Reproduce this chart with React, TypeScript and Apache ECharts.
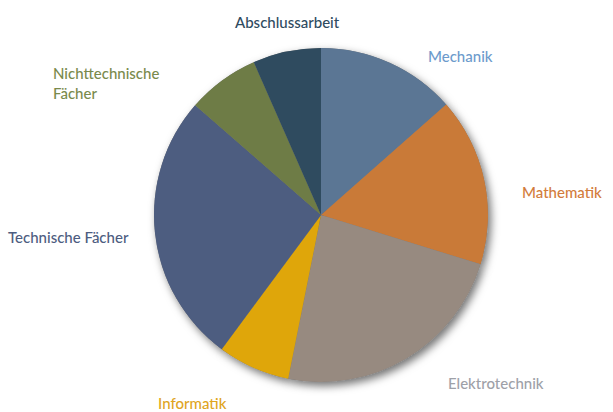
import React, { useEffect, useRef } from "react";
import * as echarts from "echarts";

const categories = [
  "Mechanik",
  "Mathematik",
  "Elektrotechnik",
  "Informatik",
  "Technische Fächer",
  "Nichttechnische\nFächer",
  "Abschlussarbeit",
];
const values = [13.5, 16.3, 23.4, 7.0, 26.3, 7.0, 6.6];
const sliceColors = ["#5b7694", "#c97a38", "#978a80", "#dfa60a", "#4d5d80", "#6e7c46", "#2f4b5f"];
const labelColors = ["#6d9bcc", "#d27c3c", "#9ea1a8", "#e0a51e", "#4d5d80", "#7a8a4c", "#2f4b5f"];

// label anchor positions (x, y, align)
const labelPos: [number, number, string][] = [
  [428, 56, "left"],
  [522, 192, "left"],
  [448, 383, "left"],
  [158, 403, "left"],
  [8, 237, "left"],
  [53, 83, "left"],
  [235, 22, "left"],
];

export default function App() {
  const ref = useRef<HTMLDivElement>(null);
  useEffect(() => {
    const chart = echarts.init(ref.current!, null, { renderer: "svg" });
    const data = categories.map((c, i) => ({
      name: c,
      value: values[i],
      itemStyle: { color: sliceColors[i] },
      label: { color: labelColors[i] },
    }));
    chart.setOption({
      animation: false,
      backgroundColor: "#ffffff",
      series: [
        {
          type: "pie",
          silent: true,
          center: [321, 215],
          radius: 167,
          startAngle: 90,
          z: 1,
          data: categories.map((c, i) => ({ name: c, value: values[i] })),
          itemStyle: {
            color: "#777",
            shadowBlur: 8,
            shadowColor: "rgba(0,0,0,0.55)",
            shadowOffsetX: 3,
            shadowOffsetY: 4,
          },
          label: { show: false },
          labelLine: { show: false },
        },
        {
          type: "pie",
          center: [321, 215],
          radius: 167,
          startAngle: 90,
          z: 2,
          data,
          itemStyle: { borderWidth: 0 },
          label: {
            show: true,
            fontFamily: "Lato",
            fontSize: 15,
            fontWeight: 500,
            lineHeight: 20,
            formatter: "{b}",
            overflow: "none",
            edgeDistance: 0,
          },
          labelLine: { show: false },
          labelLayout: (p: any) => {
            const lp = labelPos[p.dataIndex];
            return { x: lp[0], y: lp[1], align: lp[2], verticalAlign: "middle" };
          },
        },
      ],
    });
    return () => chart.dispose();
  }, []);
  return (
    <div
      ref={ref}
      style={{ position: "fixed", left: 0, top: 0, width: 613, height: 412 }}
    />
  );
}
